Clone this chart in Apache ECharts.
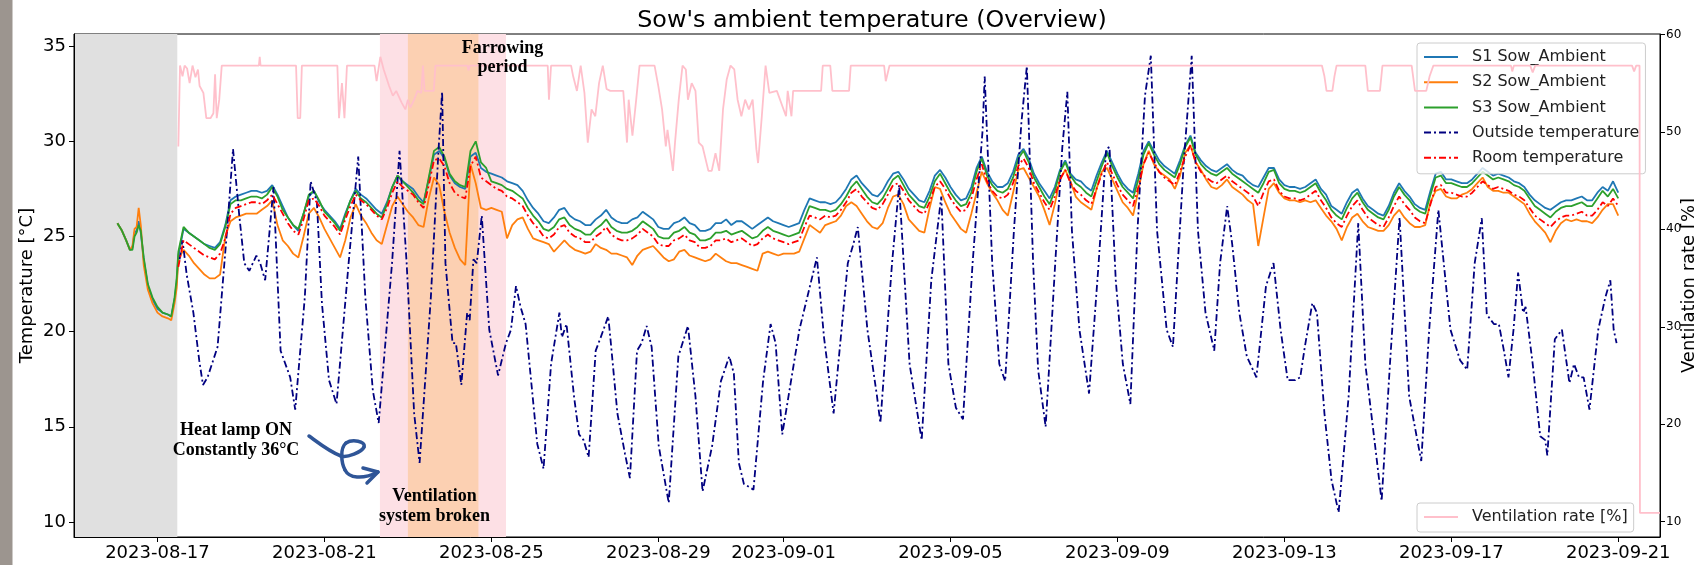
<!DOCTYPE html>
<html>
<head>
<meta charset="utf-8">
<title>Sow's ambient temperature (Overview)</title>
<script src="https://cdn.jsdelivr.net/npm/echarts@6/dist/echarts.min.js"></script>
<style>
  html, body { margin: 0; padding: 0; background: #fff; }
  #chart { width: 1694px; height: 565px; }
</style>
</head>
<body>
<div id="chart"></div>
<script>
// all x positions are in days after 2023-08-17 00:00
const DAY = 24 * 3600 * 1000
const t0 = new Date(2023, 7, 17).getTime()
const toTime = (d) => t0 + d * DAY

const xStart = new Date(2023, 7, 15).getTime()
const xEnd = new Date(2023, 8, 22).getTime()

const xTickDates = [
  [2023, 8, 17], [2023, 8, 21], [2023, 8, 25], [2023, 8, 29], [2023, 9, 1],
  [2023, 9, 5], [2023, 9, 9], [2023, 9, 13], [2023, 9, 17], [2023, 9, 21]
]
const tempTicks = [10, 15, 20, 25, 30, 35]
const ventTicks = [10, 20, 30, 40, 50, 60]

// shaded periods (days)
const heatLampEnd = 0.475
const farrowing = [5.33, 8.35]
const ventBroken = [6.0, 7.69]

// sow sensors: irregular readings while the heat lamp was on
const sowEarlyDays = [-0.96, -0.85, -0.75, -0.66, -0.6, -0.55, -0.5, -0.45, -0.4, -0.33, -0.23, -0.12, 0.0, 0.12, 0.25, 0.33, 0.41, 0.46]
const s1Early = [25.7, 25.3, 24.8, 24.3, 24.4, 25.2, 25.3, 25.8, 25.2, 23.8, 22.4, 21.7, 21.2, 21.0, 20.9, 20.8, 21.7, 22.6]
const s2Early = [25.7, 25.3, 24.8, 24.3, 24.5, 25.4, 25.5, 26.5, 25.6, 23.5, 22.2, 21.5, 21.0, 20.8, 20.7, 20.6, 21.5, 22.3]
const s3Early = [25.7, 25.3, 24.8, 24.3, 24.3, 25.0, 25.2, 25.6, 25.3, 23.9, 22.5, 21.8, 21.3, 21.0, 20.9, 20.8, 21.8, 22.8]

// then 3-hourly readings from Aug 17 12:00 (one row per day: 00 03 06 09 12 15 18 21 h)
const gridStart = 0.5
const gridStep = 0.125
const s1 = [
  24.0, 25.4, 25.2, 25.0,
  24.8, 24.6, 24.5, 24.4, 24.7, 25.6, 26.9, 27.1,
  27.2, 27.3, 27.4, 27.4, 27.3, 27.4, 27.7, 27.2,
  26.6, 26.0, 25.6, 25.3, 26.2, 27.1, 27.4, 26.8,
  26.4, 26.1, 25.8, 25.4, 26.2, 26.9, 27.5, 27.2,
  27.0, 26.7, 26.4, 26.2, 26.8, 27.6, 28.2, 27.9,
  27.7, 27.5, 27.1, 26.8, 28.0, 29.3, 29.5, 29.1,
  28.2, 27.8, 27.6, 27.5, 29.2, 29.4, 28.6, 28.4,
  28.3, 28.2, 28.1, 27.9, 27.8, 27.7, 27.4, 26.9,
  26.5, 26.2, 25.8, 25.7, 26.0, 26.4, 26.5, 26.1,
  25.9, 25.8, 25.6, 25.6, 25.9, 26.1, 26.4, 26.0,
  25.8, 25.7, 25.7, 25.9, 26.0, 26.3, 26.1, 25.9,
  25.5, 25.4, 25.4, 25.7, 25.8, 26.0, 25.7, 25.6,
  25.3, 25.3, 25.4, 25.7, 25.7, 25.9, 25.6, 25.8,
  25.8, 25.6, 25.4, 25.6, 25.8, 26.0, 25.8, 25.7,
  25.6, 25.5, 25.6, 25.7, 26.4, 27.0, 26.9, 26.8,
  26.8, 26.7, 26.8, 27.1, 27.5, 28.0, 28.2, 27.8,
  27.5, 27.2, 27.1, 27.4, 27.9, 28.3, 28.4, 28.0,
  27.5, 27.2, 26.9, 26.8, 27.4, 28.2, 28.5, 28.1,
  27.6, 27.2, 26.9, 27.0, 27.6, 28.6, 29.2, 28.4,
  27.9, 27.6, 27.6, 27.8, 28.4, 29.3, 29.6, 29.1,
  28.3, 27.8, 27.4, 27.0, 27.6, 28.5, 29.0, 28.3,
  28.0, 27.9, 27.6, 27.4, 28.2, 28.9, 29.5, 28.9,
  28.3, 27.8, 27.5, 27.3, 28.3, 29.5, 30.0, 29.5,
  29.0, 28.7, 28.5, 28.3, 29.0, 29.8, 30.3, 29.4,
  29.0, 28.7, 28.5, 28.4, 28.6, 28.8, 28.5, 28.3,
  28.2, 27.9, 27.7, 27.6, 28.1, 28.6, 28.6, 28.0,
  27.7, 27.6, 27.6, 27.5, 27.6, 27.8, 28.0, 27.5,
  27.2, 26.6, 26.4, 26.2, 26.8, 27.3, 27.5, 27.0,
  26.6, 26.4, 26.2, 26.1, 26.6, 27.3, 27.8, 27.4,
  27.1, 26.7, 26.5, 26.4, 27.4, 28.3, 28.4, 28.0,
  28.0, 27.9, 27.8, 27.8, 28.0, 28.3, 28.6, 28.4,
  28.2, 28.3, 28.2, 28.1, 27.9, 27.8, 27.6, 27.2,
  26.9, 26.7, 26.5, 26.4, 26.6, 26.8, 26.9, 26.9,
  27.0, 27.1, 26.9, 26.9, 27.3, 27.6, 27.4, 27.9,
  27.3
]
const s2 = [
  23.8, 24.3, 24.0, 23.6,
  23.3, 23.0, 22.8, 22.8, 23.0, 25.0, 25.8, 26.0,
  26.1, 26.2, 26.2, 26.2, 26.4, 26.6, 26.9, 25.6,
  24.8, 24.5, 24.1, 23.9, 25.0, 26.2, 26.5, 26.0,
  25.4, 24.9, 24.4, 23.9, 24.8, 26.0, 26.7, 26.1,
  25.7, 25.2, 24.8, 24.6, 25.6, 26.6, 27.1, 26.7,
  26.3, 26.0, 25.6, 25.5, 27.0, 28.1, 27.7, 26.3,
  25.2, 24.4, 23.8, 23.5, 28.8, 27.8, 26.5, 26.4,
  26.5, 26.4, 26.3, 24.9, 25.6, 25.9, 26.0, 25.4,
  24.9, 24.8, 24.7, 24.6, 24.2, 24.5, 24.8, 24.5,
  24.3, 24.2, 24.1, 24.2, 24.6, 24.4, 24.3, 24.1,
  24.1, 24.0, 23.9, 23.5, 24.0, 24.3, 24.4, 24.5,
  24.2, 23.9, 23.7, 23.8, 24.2, 24.3, 24.0, 23.9,
  23.8, 23.7, 23.8, 24.1, 23.9, 23.7, 23.6, 23.6,
  23.5, 23.4, 23.3, 23.2, 24.1, 24.2, 24.1, 24.0,
  24.1, 24.1, 24.1, 24.2, 24.9, 25.6, 25.4, 25.2,
  25.6, 25.7, 25.8, 26.1, 26.6, 26.8, 26.6, 26.2,
  25.8, 25.5, 25.4, 25.7, 26.5, 27.1, 27.2, 26.7,
  25.9, 25.6, 25.3, 25.2, 26.5, 27.6, 27.5, 26.8,
  26.2, 25.8, 25.4, 25.2, 26.2, 27.3, 28.4, 27.8,
  27.3, 26.9, 26.4, 26.1, 27.3, 28.5, 28.6, 28.1,
  27.6, 27.1, 26.4, 25.6, 26.7, 28.0, 28.5, 27.9,
  27.1, 26.8, 26.6, 26.4, 27.5, 28.4, 28.6, 28.0,
  27.4, 26.8, 26.5, 26.1, 27.4, 28.8, 29.5, 28.8,
  28.4, 28.2, 28.0, 27.5, 28.2, 29.4, 29.8, 28.9,
  28.5, 28.0, 27.6, 27.5, 27.7, 28.0, 27.6, 27.4,
  27.2, 26.9, 26.7, 24.5, 26.0, 27.5, 27.8, 27.3,
  27.0, 26.9, 26.9, 26.8, 26.9, 26.8, 26.9, 26.5,
  26.1, 25.8, 25.4, 24.8, 25.5, 26.0, 26.2, 25.8,
  25.5, 25.4, 25.3, 25.3, 25.6, 26.1, 26.4, 26.0,
  25.7, 25.5, 25.5, 25.6, 26.8, 27.4, 27.5, 27.1,
  27.0, 27.0, 27.2, 27.3, 27.5, 27.8, 28.1, 27.6,
  27.4, 27.4, 27.3, 27.3, 27.1, 26.9, 26.7, 26.2,
  25.8, 25.5, 25.2, 24.7, 25.3, 25.7, 25.9, 25.8,
  25.9, 25.8, 25.8, 25.7, 26.0, 26.4, 26.7, 26.7,
  26.1
]
const s3 = [
  24.2, 25.5, 25.2, 25.0,
  24.8, 24.6, 24.4, 24.3, 24.6, 25.5, 26.7, 26.9,
  26.9, 27.0, 27.1, 27.1, 27.0, 27.2, 27.6, 27.1,
  26.4, 26.0, 25.6, 25.4, 26.2, 27.2, 27.4, 26.9,
  26.3, 26.0, 25.7, 25.3, 26.1, 26.9, 27.4, 27.0,
  26.8, 26.5, 26.2, 26.0, 26.7, 27.6, 28.2, 27.9,
  27.6, 27.3, 26.9, 26.7, 28.1, 29.5, 29.7, 29.2,
  28.3, 27.9, 27.7, 27.6, 29.5, 30.0, 28.9, 28.6,
  27.9, 27.8, 27.7, 27.5, 27.4, 27.2, 27.0, 26.5,
  26.1, 25.8, 25.4, 25.3, 25.5, 25.9, 26.0, 25.6,
  25.4, 25.3, 25.1, 25.1, 25.4, 25.6, 25.9, 25.5,
  25.3, 25.2, 25.2, 25.3, 25.5, 25.8, 25.6, 25.4,
  25.0, 24.9, 24.9, 25.2, 25.3, 25.5, 25.2, 25.1,
  24.8, 24.8, 24.9, 25.2, 25.2, 25.3, 25.1, 25.2,
  25.3, 25.1, 24.9, 25.0, 25.3, 25.5, 25.3, 25.2,
  25.1, 25.0, 25.1, 25.2, 25.9, 26.6, 26.5, 26.4,
  26.4, 26.3, 26.4, 26.7, 27.1, 27.6, 27.9, 27.5,
  27.1, 26.8, 26.7, 27.0, 27.5, 28.0, 28.2, 27.7,
  27.2, 26.9, 26.6, 26.5, 27.1, 27.9, 28.3, 27.8,
  27.3, 26.9, 26.6, 26.7, 27.3, 28.4, 29.1, 28.2,
  27.7, 27.4, 27.3, 27.5, 28.1, 29.1, 29.5, 28.9,
  28.1, 27.6, 27.1, 26.7, 27.4, 28.4, 28.9, 28.2,
  27.8, 27.6, 27.3, 27.1, 27.9, 28.7, 29.4, 28.7,
  28.1, 27.6, 27.3, 27.0, 28.0, 29.3, 29.9, 29.3,
  28.8, 28.5, 28.3, 28.1, 28.8, 29.7, 30.2, 29.3,
  28.8, 28.5, 28.3, 28.2, 28.4, 28.6, 28.3, 28.1,
  27.9, 27.7, 27.5, 27.3, 27.8, 28.4, 28.5, 27.8,
  27.5, 27.4, 27.4, 27.3, 27.4, 27.6, 27.8, 27.3,
  26.9, 26.4, 26.1, 25.9, 26.5, 27.0, 27.3, 26.8,
  26.4, 26.2, 26.0, 25.9, 26.4, 27.1, 27.6, 27.2,
  26.9, 26.5, 26.3, 26.2, 27.2, 28.1, 28.2, 27.8,
  27.8, 27.7, 27.6, 27.6, 27.8, 28.1, 28.4, 28.2,
  28.0, 28.1, 28.0, 27.9, 27.7, 27.6, 27.4, 27.0,
  26.6, 26.4, 26.2, 26.0, 26.3, 26.5, 26.6, 26.6,
  26.7, 26.8, 26.6, 26.6, 27.0, 27.4, 27.1, 27.5,
  27.0
]
const room = [
  23.4, 24.8, 24.6, 24.4,
  24.2, 24.0, 23.9, 23.8, 24.1, 24.9, 26.2, 26.5,
  26.6, 26.7, 26.8, 26.8, 26.7, 26.9, 27.2, 26.7,
  26.2, 25.7, 25.3, 25.1, 25.9, 26.9, 27.0, 26.6,
  26.1, 25.8, 25.5, 25.1, 25.9, 26.6, 27.2, 26.9,
  26.7, 26.4, 26.1, 25.9, 26.5, 27.3, 27.9, 27.6,
  27.4, 27.2, 26.8, 26.5, 27.7, 29.0, 29.1, 28.7,
  27.8, 27.3, 27.1, 27.0, 28.7, 29.2, 28.1, 27.9,
  27.7, 27.5, 27.4, 27.1, 27.0, 26.8, 26.6, 26.1,
  25.7, 25.4, 25.0, 24.9, 25.1, 25.5, 25.6, 25.2,
  25.0, 24.9, 24.7, 24.7, 25.0, 25.2, 25.5, 25.1,
  24.9, 24.8, 24.8, 24.9, 25.1, 25.4, 25.2, 25.0,
  24.6, 24.5, 24.5, 24.8, 24.9, 25.1, 24.8, 24.7,
  24.4, 24.4, 24.5, 24.8, 24.8, 24.9, 24.7, 24.8,
  24.9, 24.7, 24.5, 24.6, 24.9, 25.1, 24.9, 24.8,
  24.7, 24.6, 24.7, 24.8, 25.5, 26.1, 26.0, 25.9,
  26.1, 26.0, 26.1, 26.4, 26.8, 27.3, 27.5, 27.1,
  26.8, 26.5, 26.4, 26.7, 27.2, 27.7, 27.8, 27.4,
  26.9, 26.6, 26.3, 26.2, 26.8, 27.6, 27.9, 27.5,
  27.0, 26.6, 26.3, 26.4, 27.0, 28.0, 28.8, 27.9,
  27.4, 27.1, 27.0, 27.2, 27.8, 28.7, 29.1, 28.6,
  27.8, 27.3, 26.8, 26.4, 27.1, 28.0, 28.5, 27.8,
  27.4, 27.2, 26.9, 26.7, 27.5, 28.3, 28.9, 28.3,
  27.7, 27.2, 26.9, 26.6, 27.6, 28.8, 29.4, 28.9,
  28.4, 28.1, 27.9, 27.7, 28.4, 29.2, 29.8, 28.9,
  28.4, 28.1, 27.9, 27.8, 28.0, 28.2, 27.9, 27.7,
  27.5, 27.3, 27.1, 26.6, 27.3, 27.9, 28.0, 27.4,
  27.1, 27.0, 27.0, 26.9, 27.0, 27.2, 27.4, 26.9,
  26.5, 26.0, 25.7, 25.5, 26.1, 26.6, 26.9, 26.4,
  26.0, 25.8, 25.6, 25.5, 26.0, 26.6, 27.1, 26.7,
  26.4, 26.0, 25.8, 25.7, 26.7, 27.6, 27.7, 27.3,
  27.3, 27.2, 27.1, 27.1, 27.3, 27.6, 27.9, 27.7,
  27.5, 27.6, 27.5, 27.4, 27.2, 27.1, 26.9, 26.5,
  26.1, 25.9, 25.7, 25.5, 25.8, 26.0, 26.1, 26.1,
  26.2, 26.3, 26.1, 26.1, 26.4, 26.8, 26.6, 27.0,
  26.6
]

// outside temperature [day, °C]
const outside = [
  [0.53, 23.8], [0.6, 24.8], [0.7, 23.0], [0.86, 21.0], [1.0, 18.5], [1.09, 17.2], [1.2, 17.6], [1.44, 19.2],
  [1.67, 25.4], [1.81, 29.6], [1.96, 26.1], [2.08, 23.6], [2.2, 23.2], [2.37, 24.0], [2.46, 23.6], [2.58, 22.7],
  [2.78, 27.6], [2.95, 19.0], [3.18, 17.6], [3.3, 15.9], [3.53, 21.8], [3.67, 27.9], [3.82, 26.8], [3.94, 21.5],
  [4.11, 17.45], [4.29, 16.2], [4.58, 23.6], [4.81, 29.2], [4.98, 21.8], [5.16, 16.9], [5.3, 15.2], [5.62, 23.6],
  [5.8, 29.5], [5.97, 23.6], [6.15, 15.7], [6.28, 13.1], [6.55, 21.8], [6.73, 29.4], [6.82, 32.6], [6.9, 23.6],
  [7.07, 19.4], [7.15, 19.4], [7.28, 17.2], [7.42, 21.0], [7.48, 20.6], [7.57, 23.8], [7.65, 23.6], [7.77, 26.1],
  [7.95, 20.1], [8.16, 17.7], [8.35, 19.4], [8.47, 20.1], [8.59, 22.4], [8.7, 21.3], [8.82, 20.4], [9.1, 14.1],
  [9.25, 12.8], [9.43, 18.3], [9.63, 21.0], [9.69, 19.7], [9.8, 20.4], [9.98, 16.6], [10.1, 14.6], [10.21, 14.3],
  [10.33, 13.4], [10.5, 19.0], [10.62, 19.7], [10.8, 20.8], [10.85, 19.7], [11.02, 15.7], [11.2, 13.6], [11.32, 12.3],
  [11.49, 19.0], [11.6, 19.4], [11.72, 20.3], [11.84, 19.2], [12.01, 14.0], [12.25, 11.0], [12.48, 18.7], [12.71, 20.3],
  [12.89, 16.6], [13.06, 11.6], [13.29, 14.0], [13.5, 17.4], [13.7, 18.7], [13.81, 17.8], [13.93, 13.1], [14.05, 12.0],
  [14.28, 11.7], [14.51, 17.4], [14.69, 20.4], [14.81, 19.4], [14.97, 14.6], [15.38, 20.1], [15.8, 23.9], [15.97, 19.7],
  [16.2, 15.7], [16.54, 23.6], [16.66, 24.5], [16.78, 25.5], [17.01, 20.1], [17.24, 16.6], [17.32, 15.2], [17.6, 23.6],
  [17.77, 27.7], [18.02, 18.3], [18.31, 14.3], [18.54, 22.7], [18.78, 27.1], [18.95, 18.3], [19.13, 16.0], [19.3, 15.4],
  [19.53, 23.6], [19.77, 30.6], [19.82, 33.4], [20.0, 23.6], [20.17, 18.3], [20.31, 17.4], [20.52, 25.3], [20.7, 31.0],
  [20.83, 33.95], [20.98, 23.6], [21.1, 18.0], [21.28, 15.0], [21.51, 23.6], [21.68, 29.7], [21.8, 32.6], [21.91, 25.3],
  [22.09, 20.1], [22.32, 16.75], [22.55, 23.6], [22.73, 29.6], [22.81, 29.7], [22.96, 22.7], [23.13, 18.3], [23.31, 16.2],
  [23.48, 25.3], [23.66, 32.4], [23.8, 34.5], [23.95, 25.3], [24.18, 20.1], [24.33, 19.2], [24.59, 28.9], [24.78, 34.5],
  [24.93, 25.3], [25.11, 21.0], [25.32, 19.0], [25.46, 23.6], [25.63, 26.6], [25.75, 24.6], [25.92, 21.0], [26.1, 18.7],
  [26.33, 17.6], [26.56, 22.4], [26.74, 23.6], [26.91, 20.1], [27.08, 17.45], [27.26, 17.45], [27.38, 17.6], [27.49, 19.2],
  [27.67, 21.5], [27.78, 21.0], [27.96, 15.7], [28.13, 12.2], [28.3, 10.5], [28.54, 16.6], [28.77, 25.7], [28.94, 18.3],
  [29.18, 13.9], [29.33, 11.1], [29.53, 18.3], [29.76, 26.0], [29.99, 16.6], [30.28, 13.2], [30.47, 20.1], [30.69, 26.4],
  [30.98, 20.1], [31.21, 18.5], [31.38, 18.0], [31.56, 23.6], [31.73, 25.96], [31.85, 20.9], [32.02, 20.4], [32.14, 20.4],
  [32.26, 19.0], [32.37, 17.6], [32.49, 20.1], [32.6, 23.1], [32.72, 21.0], [32.78, 21.3], [32.95, 18.3], [33.13, 14.5],
  [33.25, 14.3], [33.3, 13.5], [33.48, 19.6], [33.65, 20.1], [33.83, 17.3], [33.94, 18.3], [34.06, 17.6], [34.17, 17.6],
  [34.31, 15.9], [34.52, 20.1], [34.69, 21.8], [34.81, 22.7], [34.89, 20.1], [34.96, 19.4]
]

// ventilation rate [day, %]
const ventilation = [
  [0.5, 48.5], [0.54, 56.8], [0.6, 55.7], [0.65, 56.8], [0.71, 56.5], [0.77, 55.0], [0.84, 56.8], [0.91, 55.6],
  [0.97, 56.4], [1.01, 54.7], [1.1, 54.0], [1.17, 51.4], [1.27, 51.4], [1.34, 51.9], [1.38, 55.9], [1.42, 51.4],
  [1.48, 53.3], [1.54, 56.8], [2.43, 56.8], [2.45, 57.7], [2.47, 56.8], [3.32, 56.8], [3.36, 51.4], [3.42, 51.4],
  [3.46, 56.8], [4.31, 56.8], [4.35, 51.4], [4.42, 55.0], [4.48, 51.4], [4.54, 56.8], [5.2, 56.8], [5.25, 55.2],
  [5.34, 57.7], [5.42, 56.4], [5.55, 54.7], [5.64, 53.7], [5.72, 54.2], [5.85, 53.0], [5.94, 52.3], [6.0, 53.3],
  [6.06, 52.5], [6.15, 53.3], [6.23, 54.2], [6.32, 54.0], [6.36, 56.8], [6.4, 54.2], [6.62, 54.2], [6.66, 56.8],
  [7.43, 56.8], [7.45, 56.3], [7.48, 56.8], [9.35, 56.8], [9.38, 53.3], [9.43, 56.8], [9.91, 56.8], [9.96, 55.7],
  [10.05, 54.2], [10.14, 56.8], [10.23, 54.0], [10.31, 48.9], [10.4, 52.3], [10.49, 51.6], [10.58, 55.0], [10.67, 56.8],
  [10.76, 54.4], [10.85, 54.2], [11.16, 54.2], [11.25, 48.9], [11.29, 53.3], [11.38, 49.6], [11.47, 53.3], [11.55, 56.8],
  [11.91, 56.8], [12.0, 54.7], [12.09, 52.3], [12.18, 48.5], [12.22, 50.2], [12.35, 46.0], [12.4, 48.9], [12.49, 53.3],
  [12.58, 56.8], [12.66, 56.4], [12.71, 53.3], [12.8, 55.0], [12.89, 54.2], [12.97, 48.9], [13.06, 48.5], [13.2, 46.0],
  [13.28, 46.0], [13.37, 47.8], [13.46, 46.0], [13.55, 52.3], [13.64, 55.4], [13.73, 56.8], [13.82, 56.4], [13.9, 53.3],
  [13.99, 51.6], [14.08, 53.3], [14.17, 52.3], [14.26, 53.3], [14.35, 48.2], [14.39, 46.8], [14.48, 51.6], [14.57, 56.8],
  [14.66, 54.0], [14.84, 54.2], [15.06, 51.6], [15.1, 54.2], [15.19, 51.6], [15.23, 54.2], [15.9, 54.2], [15.94, 56.8],
  [16.12, 56.8], [16.17, 54.2], [16.57, 54.2], [16.61, 56.8], [17.41, 56.8], [17.45, 55.2], [17.54, 56.8], [27.9, 56.8],
  [27.96, 55.7], [28.01, 54.2], [28.15, 54.2], [28.2, 55.7], [28.25, 56.8], [28.94, 56.8], [29.0, 54.2], [29.29, 54.2],
  [29.35, 56.8], [30.05, 56.8], [30.13, 54.2], [30.4, 54.2], [30.48, 55.7], [30.57, 56.8], [32.43, 56.8], [32.46, 56.2],
  [32.5, 56.8], [32.89, 56.8], [32.95, 56.1], [33.01, 56.8], [35.33, 56.8], [35.38, 56.2], [35.43, 56.8], [35.51, 56.8],
  [35.52, 10.9], [36.0, 10.9]
]

const FONT = "DejaVu Sans"
const pad2 = (n) => (n < 10 ? "0" : "") + n
const xTicks = xTickDates.map(([y, m, d]) => new Date(y, m - 1, d).getTime())

const gridDays = s1.map((_, i) => gridStart + i * gridStep)
const sowSeries = (early, vals) =>
  sowEarlyDays.map((d, i) => [toTime(d), early[i]])
    .concat(gridDays.map((d, i) => [toTime(d), vals[i]]))
const pairs = (list) => list.map(([d, v]) => [toTime(d), v])

const DASHDOT = [7, 3, 2, 3]

function lineSeries(name, data, color, extra) {
  return Object.assign({
    name: name,
    type: "line",
    data: data,
    showSymbol: false,
    symbol: "none",
    z: 2,
    itemStyle: { color: color },
    lineStyle: { color: color, width: 1.8 },
    emphasis: { disabled: true }
  }, extra || {})
}

// hand-drawn arrow next to the heat lamp note (pixel curve pieces)
const ARROW = "#2f5597"
const arrowCurves = [
  [309, 436, 320, 444, 330, 452, 341, 456],
  [341, 456, 347, 458, 362, 452, 364, 447],
  [364, 447, 366, 441, 352, 439, 346, 443],
  [346, 443, 340, 448, 341, 462, 345, 470],
  [345, 470, 349, 478, 362, 480, 378, 472]
]
const arrowStyle = { stroke: ARROW, lineWidth: 3.5, fill: null, lineCap: "round", lineJoin: "round" }

const chart = echarts.init(document.getElementById("chart"))

const legendBase = {
  orient: "vertical",
  selectedMode: false,
  itemWidth: 34,
  itemHeight: 14,
  itemGap: 5.2,
  // hide the marker dot, keep only the line sample
  itemStyle: { opacity: 0 },
  backgroundColor: "rgba(255,255,255,0.8)",
  borderColor: "#cccccc",
  borderWidth: 1,
  borderRadius: 3,
  textStyle: { fontFamily: FONT, fontSize: 16, lineHeight: 20, color: "#222", padding: [0, 0, 0, 9] }
}

const option = {
  animation: false,
  backgroundColor: "#fff",
  textStyle: { fontFamily: FONT },
  title: {
    text: "Sow's ambient temperature (Overview)",
    left: 867,
    top: 4,
    textAlign: "center",
    textStyle: { fontFamily: FONT, fontSize: 23.8, fontWeight: "normal", color: "#000" }
  },
  legend: [
    Object.assign({}, legendBase, {
      data: ["S1 Sow_Ambient", "S2 Sow_Ambient", "S3 Sow_Ambient", "Outside temperature", "Room temperature"],
      left: 1417,
      top: 43,
      padding: [4, 6, 6, 6],
      z: 3
    }),
    Object.assign({}, legendBase, {
      data: ["Ventilation rate [%]"],
      left: 1417,
      top: 503,
      padding: [4, 6, 5, 6],
      z: 5
    })
  ],
  grid: {
    left: 74, right: 34, top: 34, bottom: 28,
    outerBoundsMode: "none",
    show: true, borderColor: "#000", borderWidth: 1, backgroundColor: "transparent"
  },
  xAxis: {
    // timestamps on a linear axis so the date ticks can be placed exactly
    type: "value",
    min: xStart,
    max: xEnd,
    z: 10,
    axisLine: { lineStyle: { color: "#000", width: 1 } },
    axisTick: { customValues: xTicks, length: 5, lineStyle: { color: "#000" } },
    axisLabel: {
      customValues: xTicks,
      fontFamily: FONT, fontSize: 18, color: "#000", margin: 7,
      formatter: (v) => {
        const d = new Date(v)
        return d.getFullYear() + "-" + pad2(d.getMonth() + 1) + "-" + pad2(d.getDate())
      }
    },
    splitLine: { show: false }
  },
  yAxis: [
    {
      type: "value",
      min: 9.21,
      max: 35.64,
      z: 10,
      name: "Temperature [°C]",
      nameLocation: "middle",
      nameRotate: 90,
      nameGap: 38,
      nameMoveOverlap: false,
      nameTextStyle: { fontFamily: FONT, fontSize: 18, color: "#000" },
      axisLine: { show: true, lineStyle: { color: "#000", width: 1 } },
      axisTick: { show: true, customValues: tempTicks, length: 5, lineStyle: { color: "#000" } },
      axisLabel: { customValues: tempTicks, fontFamily: FONT, fontSize: 18, color: "#000", margin: 8 },
      splitLine: { show: false }
    },
    {
      type: "value",
      position: "right",
      min: 8.43,
      max: 60.04,
      z: 10,
      name: "Ventilation rate [%]",
      nameLocation: "middle",
      nameRotate: 90,
      nameGap: 20,
      nameMoveOverlap: false,
      nameTextStyle: { fontFamily: FONT, fontSize: 18, color: "#000" },
      axisLine: { show: true, lineStyle: { color: "#000", width: 1 } },
      axisTick: { show: true, customValues: ventTicks, length: 5, lineStyle: { color: "#000" } },
      axisLabel: { customValues: ventTicks, fontFamily: FONT, fontSize: 12, color: "#000", margin: 6 },
      splitLine: { show: false }
    }
  ],
  series: [
    {
      // shaded periods
      type: "line",
      data: [],
      z: 1,
      silent: true,
      markArea: {
        silent: true,
        label: { show: false },
        data: [
          [{ xAxis: xStart, itemStyle: { color: "#e0e0e0" } }, { xAxis: toTime(heatLampEnd) }],
          [{ xAxis: toTime(farrowing[0]), itemStyle: { color: "#fde0e5" } }, { xAxis: toTime(farrowing[1]) }],
          [{ xAxis: toTime(ventBroken[0]), itemStyle: { color: "#fcd0b2" } }, { xAxis: toTime(ventBroken[1]) }]
        ]
      }
    },
    lineSeries("S1 Sow_Ambient", sowSeries(s1Early, s1), "#1f77b4"),
    lineSeries("S2 Sow_Ambient", sowSeries(s2Early, s2), "#ff7f0e"),
    lineSeries("S3 Sow_Ambient", sowSeries(s3Early, s3), "#2ca02c"),
    lineSeries("Outside temperature", pairs(outside), "#000080", {
      lineStyle: { color: "#000080", width: 1.8, type: DASHDOT }
    }),
    lineSeries("Room temperature", gridDays.map((d, i) => [toTime(d), room[i]]), "#ff0000", {
      lineStyle: { color: "#ff0000", width: 1.8, type: DASHDOT }
    }),
    lineSeries("Ventilation rate [%]", pairs(ventilation), "#ffc0cb", {
      yAxisIndex: 1,
      z: 4
    })
  ],
  graphic: [
    { type: "rect", shape: { x: 0, y: 0, width: 12.5, height: 565 }, style: { fill: "#9c958f" }, z: 100 },
    {
      type: "text", x: 502.5, y: 58, z: 100,
      style: { text: "Farrowing\nperiod", font: 'bold 18px "Liberation Serif"', fill: "#000", align: "center", verticalAlign: "middle", lineHeight: 19 }
    },
    {
      type: "text", x: 236, y: 440.5, z: 100,
      style: { text: "Heat lamp ON\nConstantly 36°C", font: 'bold 18px "Liberation Serif"', fill: "#000", align: "center", verticalAlign: "middle", lineHeight: 20 }
    },
    {
      type: "text", x: 434.5, y: 506.7, z: 100,
      style: { text: "Ventilation\nsystem broken", font: 'bold 18px "Liberation Serif"', fill: "#000", align: "center", verticalAlign: "middle", lineHeight: 20 }
    }
  ].concat(arrowCurves.map((c) => ({
    type: "bezierCurve", z: 100,
    shape: { x1: c[0], y1: c[1], cpx1: c[2], cpy1: c[3], cpx2: c[4], cpy2: c[5], x2: c[6], y2: c[7] },
    style: arrowStyle
  }))).concat([{
    type: "polyline", z: 100,
    shape: { points: [[363, 468], [378, 472], [367, 483]] },
    style: arrowStyle
  }])
}

chart.setOption(option)
window.addEventListener("resize", () => chart.resize())
</script>
</body>
</html>
